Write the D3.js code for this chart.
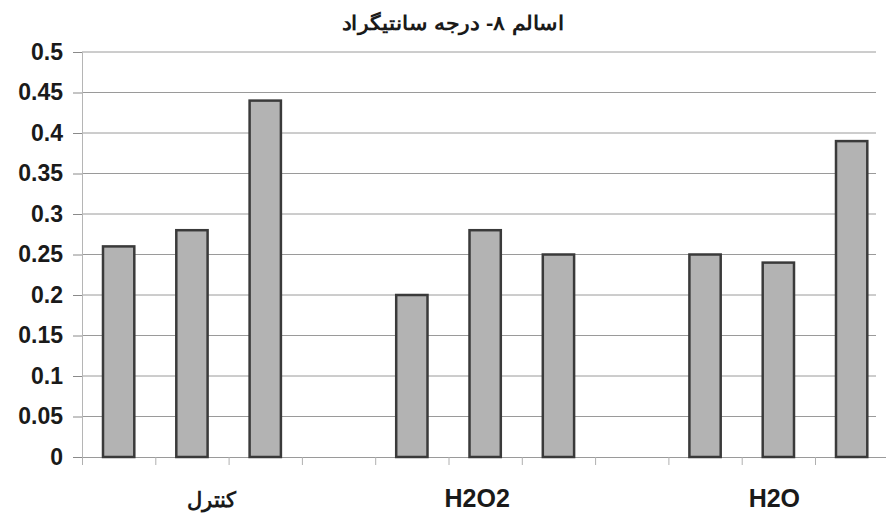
<!DOCTYPE html>
<html>
<head>
<meta charset="utf-8">
<script src="https://cdn.jsdelivr.net/npm/d3@7"></script>
<style>
  body { margin: 0; background: #fff; }
  text { font-family: "Liberation Sans", Arial, sans-serif; }
</style>
</head>
<body>
<div id="chart"></div>
<script>
// --- data ---
const title = 'اسالم ۸- درجه سانتیگراد';
const categories = ['کنترل', 'H2O2', 'H2O'];
const controlValues = [0.26, 0.28, 0.44];
const h2o2Values = [0.20, 0.28, 0.25];
const h2oValues = [0.25, 0.24, 0.39];
const yTicks = [0, 0.05, 0.1, 0.15, 0.2, 0.25, 0.3, 0.35, 0.4, 0.45, 0.5];

const groups = [controlValues, h2o2Values, h2oValues];
const perGroup = 3;
const slotCount = groups.length * (perGroup + 1) - 1; // empty slot between groups

const W = 886, H = 515;
const margin = { top: 52, right: 0, bottom: 58, left: 82 };

const svg = d3.select('#chart').append('svg')
  .attr('width', W).attr('height', H);

const x = d3.scaleBand()
  .domain(d3.range(slotCount))
  .range([margin.left, margin.left + 11 * 73.3])
  .paddingInner(0).paddingOuter(0);

const y = d3.scaleLinear()
  .domain([0, 0.5])
  .range([H - margin.bottom, margin.top]);

// bars as flat list
const bars = [];
groups.forEach((vals, gi) => {
  vals.forEach((v, j) => bars.push({ slot: gi * (perGroup + 1) + j, value: v }));
});

// gridlines
svg.append('g')
  .selectAll('line')
  .data(yTicks.filter(d => d > 0))
  .join('line')
  .attr('x1', margin.left).attr('x2', W - 10)
  .attr('y1', d => y(d)).attr('y2', d => y(d))
  .attr('stroke', '#9a9a9a').attr('stroke-width', 1);

// y axis
const yAxis = svg.append('g')
  .attr('transform', `translate(${margin.left},0)`)
  .call(d3.axisLeft(y).tickValues(yTicks).tickSize(9).tickPadding(10)
    .tickFormat(d => d3.format('')(+d.toFixed(2))));
yAxis.select('.domain').attr('stroke', '#b5b5b5');
yAxis.selectAll('.tick line').attr('stroke', '#8a8a8a');
yAxis.selectAll('.tick text')
  .attr('font-size', 23).attr('font-weight', 'bold').attr('fill', '#1a1a1a');

// x axis
const xAxis = svg.append('g')
  .attr('transform', `translate(0,${y(0)})`)
  .call(d3.axisBottom(d3.scaleLinear().domain([0, slotCount]).range(x.range()))
    .ticks(slotCount).tickSize(8).tickFormat(''));
xAxis.select('.domain').attr('stroke', '#9a9a9a');
xAxis.selectAll('.tick line').attr('stroke', '#b0b0b0');

// bars
svg.append('g')
  .selectAll('rect')
  .data(bars)
  .join('rect')
  .attr('x', d => x(d.slot) + 21)
  .attr('width', x.bandwidth() - 42)
  .attr('y', d => y(d.value))
  .attr('height', d => y(0) - y(d.value))
  .attr('fill', '#b3b3b3')
  .attr('stroke', '#3a3a3a')
  .attr('stroke-width', 2.5);

// category labels under middle bar of each group
svg.append('g')
  .selectAll('text')
  .data(categories)
  .join('text')
  .attr('x', (d, i) => x(i * (perGroup + 1) + 1) + x.bandwidth() / 2 + (i === 0 ? 20 : (i === 1 ? -8 : -4)))
  .attr('y', 507)
  .attr('text-anchor', 'middle')
  .attr('font-size', d => /[A-Z]/.test(d) ? 25 : 21)
  .attr('font-weight', 'bold')
  .attr('fill', '#1a1a1a')
  .text(d => d);

// title
svg.append('text')
  .attr('x', 453).attr('y', 30)
  .attr('text-anchor', 'middle')
  .attr('font-size', 20)
  .attr('font-weight', 'bold')
  .attr('fill', '#1a1a1a')
  .attr('textLength', 223)
  .attr('lengthAdjust', 'spacingAndGlyphs')
  .text(title);
</script>
</body>
</html>
